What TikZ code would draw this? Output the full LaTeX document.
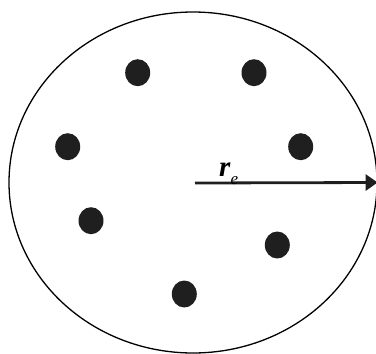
\documentclass[tikz,border=0pt]{standalone}
\usepackage{fontspec}
\setmainfont{Liberation Serif}
\usetikzlibrary{arrows.meta, shapes.geometric}

\begin{document}
\begin{tikzpicture}[
        x=1pt, y=-1pt,
        rimnode/.style={ellipse, draw=black, line width=1.3pt,
                        minimum width=368pt, minimum height=341pt, inner sep=0pt},
        dotnode/.style={ellipse, fill=black!88, minimum width=25pt,
                        minimum height=27pt, inner sep=0pt},
        >={Triangle[length=12pt, width=16pt]}
    ]
        \useasboundingbox (0,0) rectangle (376,354);

        \node[rimnode] (rim) at (193, 182.5) {};
        \coordinate (c) at (195, 183);

        % particles
        \node[dotnode] (d1) at (137.7, 72.7) {};
        \node[dotnode] (d2) at (254, 72.7) {};
        \node[dotnode] (d3) at (67.7, 146.7) {};
        \node[dotnode] (d4) at (300.7, 146.7) {};
        \node[dotnode] (d5) at (91, 220.7) {};
        \node[dotnode] (d6) at (277.3, 245) {};
        \node[dotnode] (d7) at (184.3, 294) {};

        \draw[->, line width=2.8pt, black!88] (c) -- (rim.east);
        \node[font=\fontsize{29}{29}\selectfont, inner sep=0pt, anchor=base west] (re) at (219, 176)
            {\textbf{\textit{r}}\raisebox{-8pt}{\fontsize{17}{17}\selectfont\textit{e}}};
    \end{tikzpicture}
\end{document}
